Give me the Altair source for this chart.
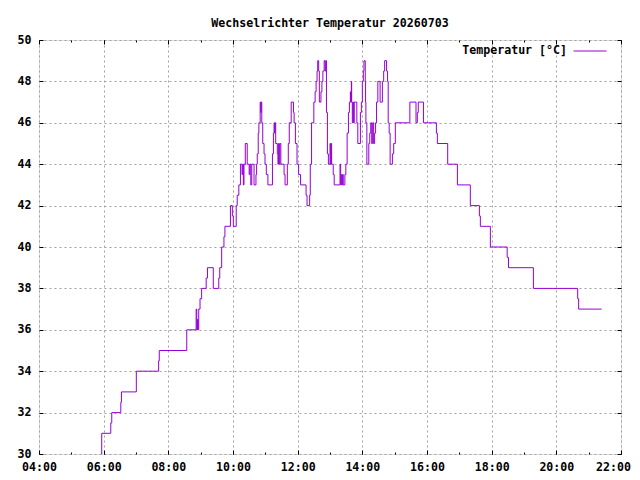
import altair as alt
import pandas as pd

# ---- data ----
hours = [
    5.93, 5.94, 6.22, 6.25, 6.53, 6.55, 7.01, 7.70, 7.72, 8.57,
    8.86, 8.88, 8.90, 8.92, 8.94, 8.98, 9.03, 9.17, 9.21, 9.39,
    9.56, 9.59, 9.65, 9.72, 9.75,
    9.92, 9.98, 10.01, 10.10, 10.13, 10.18, 10.23, 10.28, 10.30, 10.32,
    10.34, 10.38, 10.44, 10.50, 10.52, 10.55, 10.58, 10.65, 10.71, 10.73,
    10.75, 10.78, 10.80, 10.84, 10.86, 10.87, 10.89, 10.92, 10.96, 10.99,
    11.03, 11.08, 11.22, 11.25, 11.27, 11.29, 11.30, 11.32, 11.37, 11.39,
    11.41, 11.43, 11.45, 11.48, 11.58, 11.61, 11.68, 11.71, 11.74, 11.80,
    11.87, 11.89, 11.93, 11.98, 12.03, 12.09, 12.26, 12.29, 12.37, 12.39,
    12.43, 12.50, 12.54, 12.57, 12.60, 12.62, 12.65, 12.67, 12.72, 12.75,
    12.78, 12.82, 12.85, 12.87, 12.89, 12.92, 12.95, 13.00, 13.02, 13.04,
    13.05, 13.10, 13.13, 13.31, 13.33, 13.35, 13.37, 13.39, 13.41, 13.46,
    13.49, 13.53, 13.57, 13.60, 13.63, 13.64, 13.66, 13.67, 13.69, 13.71,
    13.73, 13.75, 13.83, 13.86, 13.94, 13.97, 14.00, 14.03, 14.05, 14.09,
    14.10, 14.11, 14.14, 14.20, 14.23, 14.26, 14.29, 14.32, 14.35, 14.38,
    14.41, 14.44, 14.48, 14.55, 14.62, 14.66, 14.69, 14.75, 14.78, 14.80,
    14.83, 14.86, 14.93, 14.97, 15.02, 15.47, 15.66, 15.70, 15.73, 15.89,
    16.29, 16.32, 16.64, 16.94, 17.34, 17.62, 17.65, 17.96, 18.48, 18.52,
    19.29, 20.66, 20.69, 21.40,
]
temps = [
    30, 31, 31.5, 32, 32.5, 33, 34, 34.5, 35, 36,
    37, 36, 36.5, 36, 37, 37.5, 38, 38.5, 39, 38,
    38.5, 39, 40, 40.5, 41,
    42, 41.5, 41, 42, 42.5, 43, 44, 43.5, 44, 43,
    44, 45, 44, 43.5, 44, 43, 44, 43, 43.5, 44,
    44.5, 45.5, 46, 47, 46.5, 47, 46, 45, 44.5, 44,
    43.5, 43, 44.5, 45.5, 46, 45.5, 46, 45, 44.5, 44,
    45, 44, 45, 44, 43.5, 43, 44, 45, 46, 47,
    46.5, 46, 45, 44, 43.5, 43, 42.5, 42, 42.5, 44,
    46, 47, 47.5, 48, 48.5, 49, 48.5, 47, 47.5, 48,
    48.5, 49, 48.5, 49, 46.5, 44.5, 44, 45, 44, 45,
    44, 43.5, 43, 44, 43, 43.5, 43, 43.5, 43, 43.5,
    44, 45.5, 46.5, 47, 47.5, 47, 48, 47, 46, 47,
    46, 47, 46, 45, 46.5, 47, 48, 48.5, 49, 48,
    47, 46, 44, 45, 45.5, 46, 45, 46, 45, 45.5,
    46, 47, 48, 47, 48, 48.5, 49, 48.5, 48, 46,
    45.5, 44, 44.5, 45, 46, 47, 46, 46.5, 47, 46,
    45.5, 45, 44, 43, 42, 41.5, 41, 40, 39.5, 39,
    38, 37.5, 37, 37,
]
series_name = "Temperatur [°C]"
title_text = "Wechselrichter Temperatur 20260703"
x_major = [4, 6, 8, 10, 12, 14, 16, 18, 20, 22]
x_minor = list(range(4, 23))
y_major = [30, 32, 34, 36, 38, 40, 42, 44, 46, 48, 50]

df = pd.DataFrame({"h": hours, "t": temps, "s": [series_name] * len(hours)})

FONT = "DejaVu Sans Mono"
FS = 11.6
LINE_COLOR = "#9400D3"
GRID_COLOR = "#a0a0a0"

xs = alt.Scale(domain=[4, 22], nice=False, zero=False)
ys = alt.Scale(domain=[30, 50], nice=False, zero=False)
label_expr = "(datum.value < 10 ? '0' : '') + datum.value + ':00'"

common = dict(title=None, domain=False, tickColor="black", tickWidth=1,
              labelFont=FONT, labelFontSize=FS, labelFontWeight="bold",
              labelColor="black", labelFlush=False, labelOverlap=False)

# main data line with labelled bottom / left axes
main = alt.Chart(df).mark_line(interpolate="step-after", strokeWidth=1).encode(
    x=alt.X("h:Q", scale=xs, axis=alt.Axis(
        orient="bottom", values=x_major, labelExpr=label_expr, grid=False,
        offset=-4, tickSize=4, labelPadding=7,
        labelOffset={"condition": {"test": "datum.value == 22", "value": -8}, "value": 0},
        **common)),
    y=alt.Y("t:Q", scale=ys, axis=alt.Axis(
        orient="left", values=y_major, grid=False,
        offset=-4, tickSize=4, labelPadding=8, **common)),
    color=alt.Color("s:N", scale=alt.Scale(range=[LINE_COLOR]), legend=alt.Legend(
        orient="none", legendX=534, legendY=-6, title=None, padding=0,
        symbolType="stroke", symbolSize=1089, symbolStrokeWidth=1,
        labelAlign="right", labelOffset={"expr": "-40"}, labelFont=FONT, labelFontSize=FS,
        labelFontWeight="bold", labelColor="black")),
)

ghost = alt.Chart(df).mark_line(strokeOpacity=0)

grid = ghost.encode(
    x=alt.X("h:Q", scale=xs, axis=alt.Axis(
        orient="bottom", values=x_major, grid=True, gridColor=GRID_COLOR,
        gridDash=[2, 3], gridWidth=1, ticks=False, labels=False, domain=False, title=None)),
    y=alt.Y("t:Q", scale=ys, axis=alt.Axis(
        orient="left", values=y_major, grid=True, gridColor=GRID_COLOR,
        gridDash=[2, 3], gridWidth=1, ticks=False, labels=False, domain=False, title=None)),
)

opp = ghost.encode(
    x=alt.X("h:Q", scale=xs, axis=alt.Axis(
        orient="top", values=x_major, grid=False, labels=False, domain=False,
        offset=-4, tickSize=4, tickColor="black", title=None)),
    y=alt.Y("t:Q", scale=ys, axis=alt.Axis(
        orient="right", values=y_major, grid=False, labels=False, domain=False,
        offset=-4, tickSize=4, tickColor="black", title=None)),
)

minor_bottom = ghost.encode(
    x=alt.X("h:Q", scale=xs, axis=alt.Axis(
        orient="bottom", values=x_minor, grid=False, labels=False, domain=False,
        offset=-2, tickSize=2, tickColor="black", title=None)),
    y=alt.Y("t:Q", scale=ys, axis=None),
)

minor_top = ghost.encode(
    x=alt.X("h:Q", scale=xs, axis=alt.Axis(
        orient="top", values=x_minor, grid=False, labels=False, domain=False,
        offset=-2, tickSize=2, tickColor="black", title=None)),
    y=alt.Y("t:Q", scale=ys, axis=None),
)

chart = alt.layer(grid, main, opp, minor_bottom, minor_top).resolve_axis(
    x="independent", y="independent"
).properties(
    width=582, height=414,
    autosize=alt.AutoSizeParams(type="none"),
    padding={"left": 31, "top": 32, "right": 11, "bottom": 18},
    title=alt.TitleParams(title_text, font=FONT, fontSize=FS, fontWeight="bold",
                          color="black", anchor="middle", offset=14, baseline="bottom",
                          dy=21),
).configure_view(stroke="black", strokeWidth=1).configure(background="white")

chart.save("out.html", embed_options={"renderer": "svg", "actions": False})
